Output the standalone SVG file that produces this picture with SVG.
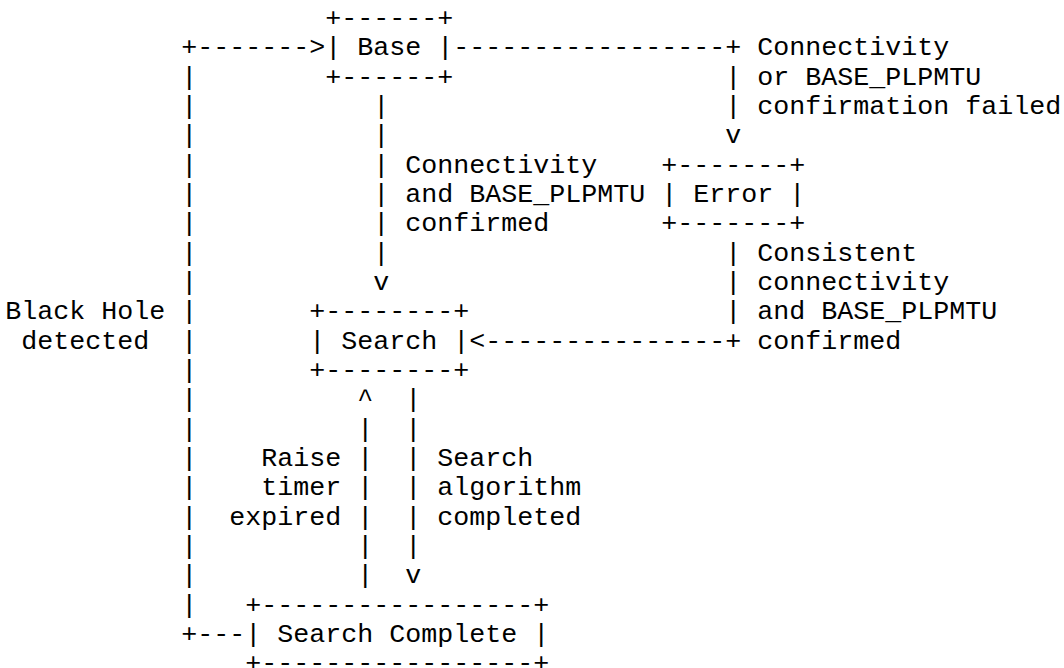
<svg xmlns="http://www.w3.org/2000/svg" width="1064" height="668" viewBox="0 0 1064 668">
<style>
text { font-family: "Courier New", "Liberation Mono", monospace; font-size: 26.67px; fill: #000; white-space: pre; }
</style>
<rect width="1064" height="668" fill="#fff"/>
<g id="connectors">
  <!-- Black Hole detected loop: Search Complete -> Base -->
  <text x="181.33" y="642">+---</text>
  <text x="181.33" y="55.33">+-------&gt;</text>
  <text><tspan x="181.33" y="84.67">|</tspan><tspan x="181.33" y="114">|</tspan><tspan x="181.33" y="143.33">|</tspan><tspan x="181.33" y="172.67">|</tspan><tspan x="181.33" y="202">|</tspan><tspan x="181.33" y="231.33">|</tspan><tspan x="181.33" y="260.67">|</tspan><tspan x="181.33" y="290">|</tspan><tspan x="181.33" y="319.33">|</tspan><tspan x="181.33" y="348.67">|</tspan><tspan x="181.33" y="378">|</tspan><tspan x="181.33" y="407.33">|</tspan><tspan x="181.33" y="436.67">|</tspan><tspan x="181.33" y="466">|</tspan><tspan x="181.33" y="495.33">|</tspan><tspan x="181.33" y="524.67">|</tspan><tspan x="181.33" y="554">|</tspan><tspan x="181.33" y="583.33">|</tspan><tspan x="181.33" y="612.67">|</tspan></text>
  <!-- Base -> Error -->
  <text x="453.33" y="55.33">-----------------+</text>
  <text><tspan x="725.33" y="84.67">|</tspan><tspan x="725.33" y="114">|</tspan><tspan x="725.33" y="143.33">v</tspan></text>
  <!-- Base -> Search -->
  <text><tspan x="373.33" y="114">|</tspan><tspan x="373.33" y="143.33">|</tspan><tspan x="373.33" y="172.67">|</tspan><tspan x="373.33" y="202">|</tspan><tspan x="373.33" y="231.33">|</tspan><tspan x="373.33" y="260.67">|</tspan><tspan x="373.33" y="290">v</tspan></text>
  <!-- Error -> Search -->
  <text><tspan x="725.33" y="260.67">|</tspan><tspan x="725.33" y="290">|</tspan><tspan x="725.33" y="319.33">|</tspan></text>
  <text x="469.33" y="348.67">&lt;---------------+</text>
  <!-- Search Complete -> Search (Raise timer expired) -->
  <text><tspan x="357.33" y="407.33">^</tspan><tspan x="357.33" y="436.67">|</tspan><tspan x="357.33" y="466">|</tspan><tspan x="357.33" y="495.33">|</tspan><tspan x="357.33" y="524.67">|</tspan><tspan x="357.33" y="554">|</tspan><tspan x="357.33" y="583.33">|</tspan></text>
  <!-- Search -> Search Complete -->
  <text><tspan x="405.33" y="407.33">|</tspan><tspan x="405.33" y="436.67">|</tspan><tspan x="405.33" y="466">|</tspan><tspan x="405.33" y="495.33">|</tspan><tspan x="405.33" y="524.67">|</tspan><tspan x="405.33" y="554">|</tspan><tspan x="405.33" y="583.33">v</tspan></text>
</g>
<g id="node-base">
  <text x="325.33" y="26">+------+</text>
  <text x="325.33" y="55.33">| Base |</text>
  <text x="325.33" y="84.67">+------+</text>
</g>
<g id="node-error">
  <text x="661.33" y="172.67">+-------+</text>
  <text x="661.33" y="202">| Error |</text>
  <text x="661.33" y="231.33">+-------+</text>
</g>
<g id="node-search">
  <text x="309.33" y="319.33">+--------+</text>
  <text x="309.33" y="348.67">| Search |</text>
  <text x="309.33" y="378">+--------+</text>
</g>
<g id="node-search-complete">
  <text x="245.33" y="612.67">+-----------------+</text>
  <text x="245.33" y="642">| Search Complete |</text>
  <text x="245.33" y="671.33">+-----------------+</text>
</g>
<g id="labels">
  <text x="757.33" y="55.33">Connectivity</text>
  <text x="757.33" y="84.67">or BASE_PLPMTU</text>
  <text x="757.33" y="114">confirmation failed</text>
  <text x="405.33" y="172.67">Connectivity</text>
  <text x="405.33" y="202">and BASE_PLPMTU</text>
  <text x="405.33" y="231.33">confirmed</text>
  <text x="757.33" y="260.67">Consistent</text>
  <text x="757.33" y="290">connectivity</text>
  <text x="757.33" y="319.33">and BASE_PLPMTU</text>
  <text x="757.33" y="348.67">confirmed</text>
  <text x="5.33" y="319.33">Black Hole</text>
  <text x="21.33" y="348.67">detected</text>
  <text x="261.33" y="466">Raise</text>
  <text x="261.33" y="495.33">timer</text>
  <text x="229.33" y="524.67">expired</text>
  <text x="437.33" y="466">Search</text>
  <text x="437.33" y="495.33">algorithm</text>
  <text x="437.33" y="524.67">completed</text>
</g>
</svg>
